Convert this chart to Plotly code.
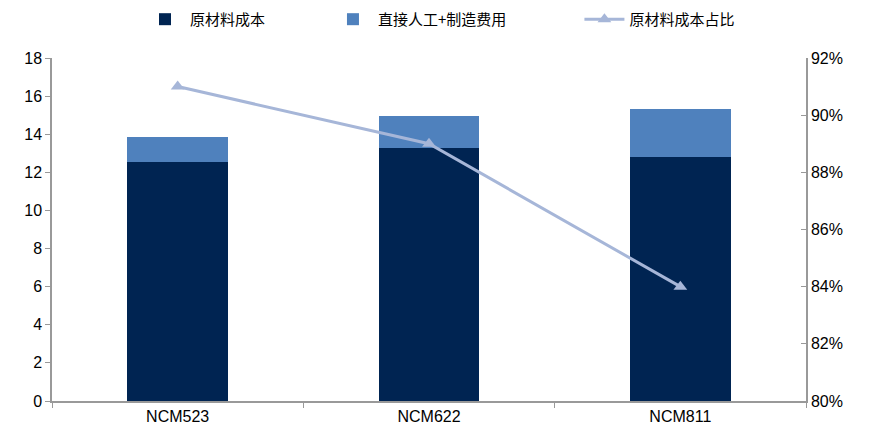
import plotly.graph_objects as go

categories = ["NCM523", "NCM622", "NCM811"]
raw_material = [12.56, 13.29, 12.82]
labor_manufacturing = [1.27, 1.66, 2.50]
raw_share = [0.91, 0.89, 0.84]

dark = "#002452"
light = "#4F81BD"
line_c = "#A6B6D8"
axis_c = "#999999"
font_lat = "Liberation Sans, Arial, sans-serif"
font_cjk = "Noto Sans CJK SC, sans-serif"

fig = go.Figure()
fig.add_trace(go.Bar(x=categories, y=raw_material, name="原材料成本", legend="legend",
                     showlegend=True,
                     marker=dict(color=dark, line=dict(width=0))))
fig.add_trace(go.Bar(x=categories, y=labor_manufacturing, name="直接人工+制造费用", legend="legend2",
                     showlegend=True,
                     marker=dict(color=light, line=dict(width=0))))
fig.add_trace(go.Scatter(x=categories, y=raw_share, name="原材料成本占比", yaxis="y2",
                         legend="legend3", mode="lines+markers", showlegend=True,
                         line=dict(color=line_c, width=3),
                         marker=dict(symbol="triangle-up", size=12, color=line_c)))

def leg(xpos):
    return dict(orientation="h", x=xpos, xanchor="left", y=0.955, yanchor="middle",
                yref="container", font=dict(family=font_cjk, size=15),
                itemwidth=40, bgcolor="rgba(0,0,0,0)", visible=True)

fig.update_layout(
    width=869, height=432, showlegend=True,
    barmode="stack", bargap=0.6,
    plot_bgcolor="white", paper_bgcolor="white",
    margin=dict(l=52, r=63, t=58, b=31, autoexpand=False),
    font=dict(family=font_lat, size=15, color="#000000"),
    legend=leg(0.1167), legend2=leg(0.366), legend3=leg(0.6995),
    xaxis=dict(showgrid=False, showline=True, linecolor=axis_c, linewidth=1.5,
               ticks="outside", tickson="boundaries", ticklen=5, tickcolor=axis_c,
               tickfont=dict(family=font_lat, size=16), automargin=False),
    yaxis=dict(range=[0, 18], dtick=2, showgrid=False, showline=True, linecolor=axis_c,
               linewidth=1.5, ticks="outside", ticklen=5, tickcolor=axis_c,
               tickfont=dict(family=font_lat, size=16), zeroline=False, automargin=False),
    yaxis2=dict(range=[0.80, 0.92], dtick=0.02, tickformat=".0%", overlaying="y",
                side="right", showgrid=False, showline=True, linecolor=axis_c,
                linewidth=1.5, ticks="inside", ticklen=5, tickcolor=axis_c,
                tickfont=dict(family=font_lat, size=16), zeroline=False, automargin=False),
)
fig.write_html("out.html")
